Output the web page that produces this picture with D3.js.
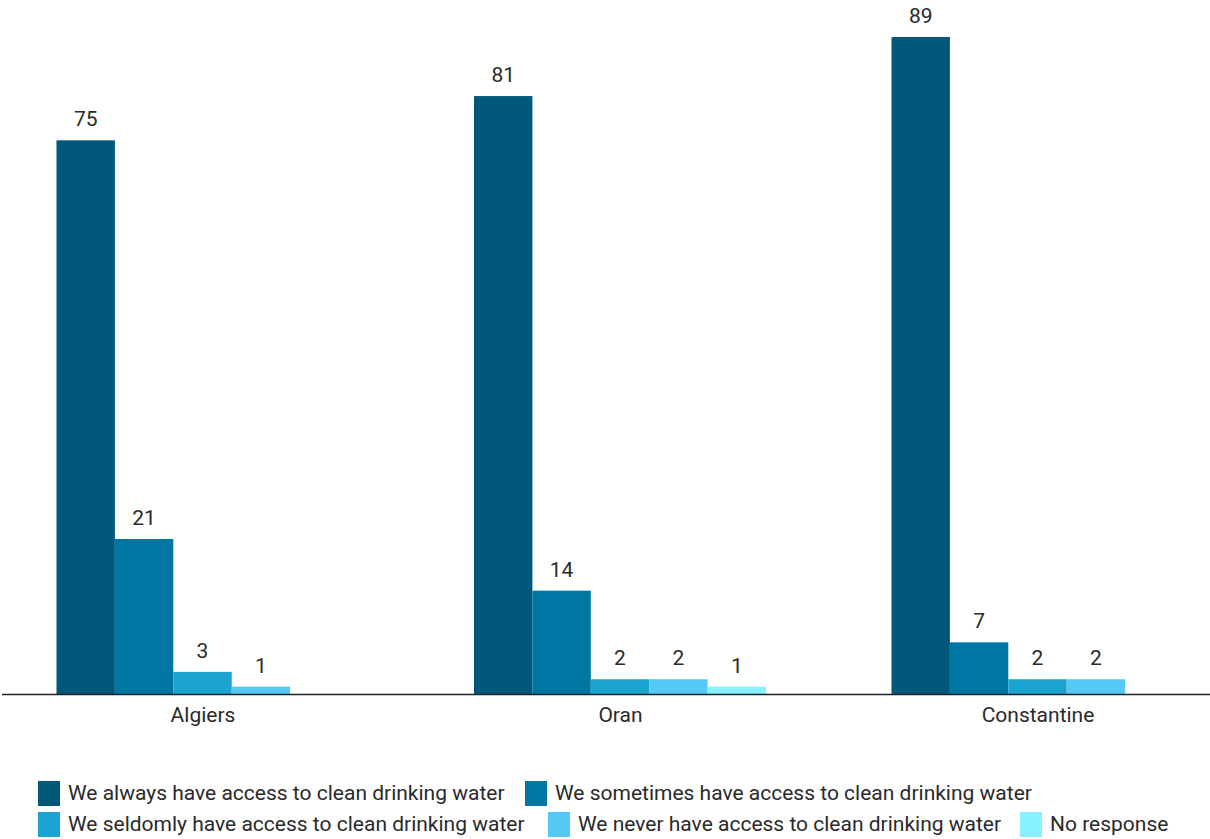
<!DOCTYPE html>
<html><head><meta charset="utf-8">
<script src="https://cdn.jsdelivr.net/npm/d3@7"></script>
<style>
body{margin:0;background:#fff;}
svg{display:block;font-family:Roboto, "Noto Sans", sans-serif;}
</style></head>
<body>
<svg id="c" width="1210" height="839"></svg>
<script>
const categories = ["Algiers", "Oran", "Constantine"];
const seriesNames = [
  "We always have access to clean drinking water",
  "We sometimes have access to clean drinking water",
  "We seldomly have access to clean drinking water",
  "We never have access to clean drinking water",
  "No response"
];
const colors = ["#00587a", "#0077a3", "#1ba3d1", "#56c8f5", "#88f1ff"];
const always = [75, 81, 89];
const sometimes = [21, 14, 7];
const seldom = [3, 2, 2];
const never = [1, 2, 2];
const noResponse = [null, 1, null];
const seriesValues = [always, sometimes, seldom, never, noResponse];

const svg = d3.select("#c");
const baseY = 694;
const x0 = d3.scalePoint().domain(categories).range([202.5, 1037.5]);
const x1 = d3.scaleBand().domain(d3.range(seriesNames.length)).range([-146, 146]).padding(0);
const y = d3.scaleLinear().domain([0, 89]).range([baseY, 37]);

const groups = svg.selectAll("g.grp").data(categories).join("g")
  .attr("transform", d => `translate(${x0(d)},0)`);

groups.each(function(cat, ci){
  const g = d3.select(this);
  const data = seriesValues.map((s, si) => ({si, v: s[ci]})).filter(d => d.v != null);
  g.selectAll("rect").data(data).join("rect")
    .attr("x", d => x1(d.si))
    .attr("width", x1.bandwidth())
    .attr("y", d => y(d.v))
    .attr("height", d => baseY - y(d.v))
    .attr("fill", d => colors[d.si]);
  g.selectAll("text.val").data(data).join("text")
    .attr("class", "val")
    .attr("x", d => x1(d.si) + x1.bandwidth()/2)
    .attr("y", d => y(d.v) - 14)
    .attr("text-anchor", "middle")
    .attr("font-size", 21)
    .attr("fill", "#2a2a2a")
    .text(d => d.v);
});

// x axis
const axis = svg.append("g").attr("transform", `translate(0,${baseY})`)
  .call(d3.axisBottom(x0).tickSize(0).tickPadding(13));
axis.attr("font-size", null).attr("font-family", null);
axis.select(".domain").attr("d", "M2,0.5H1210").attr("stroke", "#222").attr("stroke-width", 1.5);
axis.selectAll("text").style("font-size", "21px").attr("fill", "#2a2a2a").style("font-family", "Roboto, sans-serif");

// legend
const legendItems = [
  {i:0, x:38, y:781}, {i:1, x:525, y:781},
  {i:2, x:38, y:812}, {i:3, x:548, y:812}, {i:4, x:1020, y:812}
];
const lg = svg.append("g");
legendItems.forEach(it => {
  lg.append("rect").attr("x", it.x).attr("y", it.y).attr("width", 22).attr("height", 25).attr("fill", colors[it.i]);
  lg.append("text").attr("x", it.x + 30).attr("y", it.y + 19).attr("font-size", 21).attr("fill", "#2a2a2a").text(seriesNames[it.i]);
});
</script>
</body></html>
